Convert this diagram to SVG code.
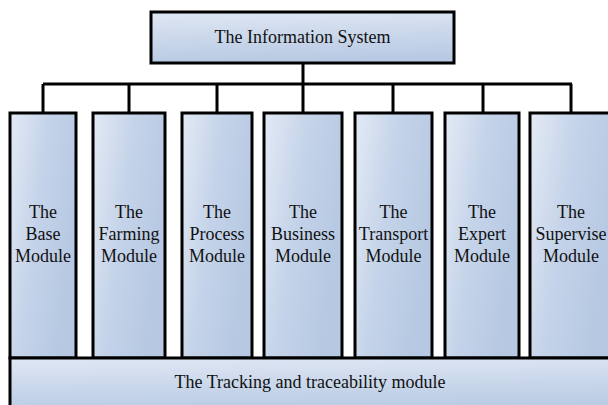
<svg xmlns="http://www.w3.org/2000/svg" width="608" height="405" viewBox="0 0 608 405">
<style>
.box{stroke:#000;stroke-width:3;fill:url(#g)}
.wide{stroke:#000;stroke-width:3;fill:url(#gw)}
.t{font-family:"Liberation Serif","Times New Roman",serif;font-size:18px;fill:#111;text-anchor:middle}
.c{stroke:#000;stroke-width:3;fill:none}
</style>
<defs>
<linearGradient id="g" x1="0" y1="0" x2="1" y2="0.45">
<stop offset="0" stop-color="#e3eaf5"/>
<stop offset="0.5" stop-color="#c4d3e9"/>
<stop offset="1" stop-color="#b6c8e2"/>
</linearGradient>
<linearGradient id="gw" x1="0" y1="0" x2="0.15" y2="1">
<stop offset="0" stop-color="#dfe7f4"/>
<stop offset="1" stop-color="#b8cae3"/>
</linearGradient>
</defs>
<g id="connectors">
<path class="c" d="M303 63V84M43 84H572M43 84V113M129 84V113M217 84V113M303 84V113M393 84V113M483 84V113M571 84V113"/>
</g>
<g id="info-system">
<rect class="wide" x="151" y="12" width="303" height="51"/>
<text class="t" x="302.5" y="43">The Information System</text>
</g>
<g id="base">
<rect class="box" x="10" y="113" width="66" height="245"/>
<text class="t" x="43" y="218">The</text><text class="t" x="43" y="240">Base</text><text class="t" x="43" y="262">Module</text>
</g>
<g id="farming">
<rect class="box" x="93" y="113" width="72" height="245"/>
<text class="t" x="129" y="218">The</text><text class="t" x="129" y="240">Farming</text><text class="t" x="129" y="262">Module</text>
</g>
<g id="process">
<rect class="box" x="182" y="113" width="70" height="245"/>
<text class="t" x="217" y="218">The</text><text class="t" x="217" y="240">Process</text><text class="t" x="217" y="262">Module</text>
</g>
<g id="business">
<rect class="box" x="264" y="113" width="78" height="245"/>
<text class="t" x="303" y="218">The</text><text class="t" x="303" y="240">Business</text><text class="t" x="303" y="262">Module</text>
</g>
<g id="transport">
<rect class="box" x="355" y="113" width="77" height="245"/>
<text class="t" x="393.5" y="218">The</text><text class="t" x="393.5" y="240">Transport</text><text class="t" x="393.5" y="262">Module</text>
</g>
<g id="expert">
<rect class="box" x="445" y="113" width="74" height="245"/>
<text class="t" x="482" y="218">The</text><text class="t" x="482" y="240">Expert</text><text class="t" x="482" y="262">Module</text>
</g>
<g id="supervise">
<rect class="box" x="530" y="113" width="82" height="245"/>
<text class="t" x="571" y="218">The</text><text class="t" x="571" y="240">Supervise</text><text class="t" x="571" y="262">Module</text>
</g>
<g id="tracking">
<rect class="wide" x="10" y="358" width="602" height="55"/>
<text class="t" x="310" y="388">The Tracking and traceability module</text>
</g>
</svg>
